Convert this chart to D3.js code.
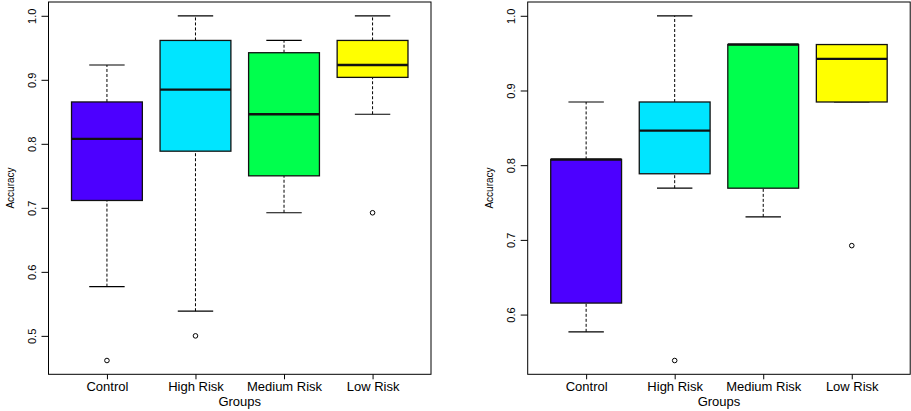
<!DOCTYPE html>
<html>
<head>
<meta charset="utf-8">
<script src="https://cdn.jsdelivr.net/npm/d3@7"></script>
<style>
  body { margin: 0; background: #fff; }
  text { font-family: "Liberation Sans", Arial, sans-serif; fill: #000; }
</style>
</head>
<body>
<svg width="911" height="411"></svg>
<script>
const groups = ['Control', 'High Risk', 'Medium Risk', 'Low Risk'];
const colors = ['#4C00FF', '#00E5FF', '#00FF4D', '#FFFF00'];

// [lower whisker, Q1, median, Q3, upper whisker]
const leftStats = [
  [0.5769, 0.7115, 0.8077, 0.8654, 0.9231],
  [0.5385, 0.7885, 0.8846, 0.9615, 1.0],
  [0.6923, 0.75, 0.8462, 0.9423, 0.9615],
  [0.8462, 0.9038, 0.9231, 0.9615, 1.0],
];
const leftOutliers = [[0.4615], [0.5], [], [0.6923]];
const leftTicks = [0.5, 0.6, 0.7, 0.8, 0.9, 1.0];

const rightStats = [
  [0.5769, 0.6154, 0.8077, 0.8077, 0.8846],
  [0.7692, 0.7885, 0.8462, 0.8846, 1.0],
  [0.7308, 0.7692, 0.9615, 0.9615, 0.9615],
  [0.8846, 0.8846, 0.9423, 0.9615, 0.9615],
];
const rightOutliers = [[], [0.5385], [], [0.6923]];
const rightTicks = [0.6, 0.7, 0.8, 0.9, 1.0];

const svg = d3.select('svg');

function panel(left, stats, outliers, ticks) {
  const top = 2, bottom = 374.3, right = left + 382.5;
  const g = svg.append('g');

  // R-style 4% axis extension
  const all = stats.flat().concat(outliers.flat());
  const [lo, hi] = d3.extent(all);
  const pad = (hi - lo) * 0.04;
  const y = d3.scaleLinear().domain([lo - pad, hi + pad]).range([bottom, top]);
  const x = d3.scaleLinear().domain([0.34, 4.66]).range([left, right]);
  const step = x(2) - x(1);
  const bw = step * 0.8, cw = step * 0.4;

  const box = g.selectAll('g.box')
    .data(stats)
    .enter()
    .append('g')
    .attr('class', 'box');

  // whiskers
  box.append('line')
    .attr('x1', (d, i) => x(i + 1)).attr('x2', (d, i) => x(i + 1))
    .attr('y1', d => y(d[3])).attr('y2', d => y(d[4]))
    .attr('stroke', '#000').attr('stroke-dasharray', '3,2');
  box.append('line')
    .attr('x1', (d, i) => x(i + 1)).attr('x2', (d, i) => x(i + 1))
    .attr('y1', d => y(d[0])).attr('y2', d => y(d[1]))
    .attr('stroke', '#000').attr('stroke-dasharray', '3,2');
  // caps
  [0, 4].forEach(k => {
    box.append('line')
      .attr('x1', (d, i) => x(i + 1) - cw / 2).attr('x2', (d, i) => x(i + 1) + cw / 2)
      .attr('y1', d => y(d[k])).attr('y2', d => y(d[k]))
      .attr('stroke', '#000').attr('stroke-width', 1.2);
  });
  // box
  box.append('rect')
    .attr('x', (d, i) => x(i + 1) - bw / 2)
    .attr('width', bw)
    .attr('y', d => y(d[3]))
    .attr('height', d => y(d[1]) - y(d[3]))
    .attr('fill', (d, i) => colors[i])
    .attr('stroke', '#111').attr('stroke-width', 1.3);
  // median
  box.append('line')
    .attr('x1', (d, i) => x(i + 1) - bw / 2).attr('x2', (d, i) => x(i + 1) + bw / 2)
    .attr('y1', d => y(d[2])).attr('y2', d => y(d[2]))
    .attr('stroke', '#111').attr('stroke-width', 2.4);

  // outliers
  outliers.forEach((o, i) => {
    g.selectAll(null).data(o).enter().append('circle')
      .attr('cx', x(i + 1)).attr('cy', d => y(d))
      .attr('r', 2.3).attr('fill', 'none').attr('stroke', '#000');
  });

  // frame
  g.append('rect')
    .attr('x', left).attr('y', top)
    .attr('width', right - left).attr('height', bottom - top)
    .attr('fill', 'none').attr('stroke', '#000');

  // y axis
  const yAxis = g.append('g')
    .attr('transform', `translate(${left},0)`)
    .call(d3.axisLeft(y).tickValues(ticks).tickFormat(d3.format('.1f')).tickSizeOuter(0).tickSize(7));
  yAxis.select('.domain').remove();
  yAxis.selectAll('text')
    .attr('font-size', 11).attr('font-family', null)
    .attr('x', null).attr('dy', null)
    .attr('text-anchor', 'middle')
    .attr('transform', 'translate(-13,0) rotate(-90)');

  // x axis
  const xAxis = g.append('g')
    .attr('transform', `translate(0,${bottom})`)
    .call(d3.axisBottom(x).tickValues([1, 2, 3, 4]).tickFormat((d, i) => groups[i]).tickSizeOuter(0).tickSize(5));
  xAxis.select('.domain').remove();
  xAxis.selectAll('text')
    .attr('font-size', 13).attr('font-family', null)
    .attr('y', 17).attr('dy', null);

  g.append('text')
    .attr('x', (left + right) / 2).attr('y', 405.5)
    .attr('text-anchor', 'middle').attr('font-size', 13)
    .text('Groups');
  g.append('text')
    .attr('transform', `translate(${left - 35},188) rotate(-90)`)
    .attr('text-anchor', 'middle').attr('font-size', 10)
    .text('Accuracy');
}

panel(48.5, leftStats, leftOutliers, leftTicks);
panel(527.7, rightStats, rightOutliers, rightTicks);
</script>
</body>
</html>
